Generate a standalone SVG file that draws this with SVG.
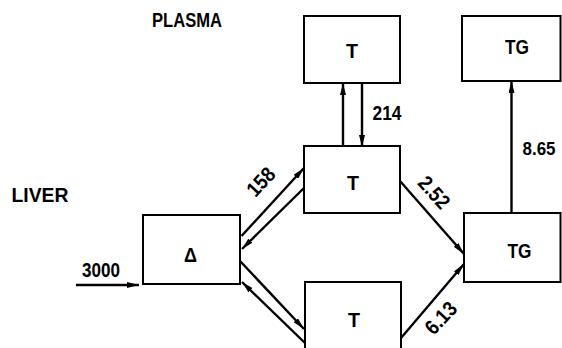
<svg xmlns="http://www.w3.org/2000/svg" width="562" height="348" viewBox="0 0 562 348">
<defs>
<style>
.box{fill:#fff;stroke:#000;stroke-width:2}
.lbl{font-family:"Liberation Sans",Arial,sans-serif;font-weight:bold;font-size:21px;fill:#000;text-anchor:middle}
.ln{stroke:#000;stroke-width:2.4;fill:none;marker-end:url(#ah)}
</style>
<marker id="ah" viewBox="0 0 12 6" refX="12" refY="3" markerWidth="12" markerHeight="6" markerUnits="userSpaceOnUse" orient="auto">
<path d="M0,0 L12,3 L0,6 Z" fill="#000"/>
</marker>
</defs>
<rect width="562" height="348" fill="#fff"/>
<text class="lbl" x="187" y="26.5" textLength="70" lengthAdjust="spacingAndGlyphs">PLASMA</text>
<text class="lbl" x="40" y="201.5" textLength="57" lengthAdjust="spacingAndGlyphs">LIVER</text>
<g id="connectors">
<line class="ln" x1="76" y1="285" x2="139" y2="285"/>
<line class="ln" x1="241.5" y1="236" x2="304" y2="168"/>
<line class="ln" x1="305" y1="187" x2="242" y2="249"/>
<line class="ln" x1="240" y1="261" x2="304" y2="329"/>
<line class="ln" x1="305" y1="343" x2="242" y2="282"/>
<line class="ln" x1="400" y1="181" x2="464" y2="254"/>
<line class="ln" x1="401" y1="338" x2="464" y2="264"/>
<line class="ln" x1="343" y1="147" x2="343" y2="83"/>
<line class="ln" x1="362" y1="83" x2="362" y2="147"/>
<line class="ln" x1="511.5" y1="213" x2="511.5" y2="81"/>
<text class="lbl" x="101" y="277" textLength="38" lengthAdjust="spacingAndGlyphs">3000</text>
<text class="lbl" x="387" y="120" textLength="29" lengthAdjust="spacingAndGlyphs">214</text>
<text class="lbl" x="539" y="155" style="font-size:19px" textLength="33" lengthAdjust="spacingAndGlyphs">8.65</text>
<text class="lbl" transform="translate(261,182) rotate(-47)" x="0" y="7" textLength="31" lengthAdjust="spacingAndGlyphs">158</text>
<text class="lbl" transform="translate(434,192.5) rotate(48)" x="0" y="7" textLength="36" lengthAdjust="spacingAndGlyphs">2.52</text>
<text class="lbl" transform="translate(441,318) rotate(-47)" x="0" y="7" textLength="36" lengthAdjust="spacingAndGlyphs">6.13</text>
</g>
<g id="node-plasma-T">
<rect class="box" x="304" y="16" width="96" height="67"/>
<text class="lbl" x="352" y="58" textLength="12" lengthAdjust="spacingAndGlyphs">T</text>
</g>
<g id="node-plasma-TG">
<rect class="box" x="462" y="16" width="98.5" height="65"/>
<text class="lbl" x="517" y="54" textLength="24" lengthAdjust="spacingAndGlyphs">TG</text>
</g>
<g id="node-liver-T-mid">
<rect class="box" x="304" y="146" width="96" height="67"/>
<text class="lbl" x="353" y="190" textLength="12" lengthAdjust="spacingAndGlyphs">T</text>
</g>
<g id="node-liver-TG">
<rect class="box" x="464" y="213" width="96.5" height="69"/>
<text class="lbl" x="519.5" y="258" textLength="24" lengthAdjust="spacingAndGlyphs">TG</text>
</g>
<g id="node-delta">
<rect class="box" x="143" y="215" width="97" height="69"/>
<text class="lbl" x="190.5" y="262" textLength="13" lengthAdjust="spacingAndGlyphs">Δ</text>
</g>
<g id="node-liver-T-bot">
<rect class="box" x="305" y="282" width="96" height="80"/>
<text class="lbl" x="354" y="327" textLength="12" lengthAdjust="spacingAndGlyphs">T</text>
</g>
</svg>
